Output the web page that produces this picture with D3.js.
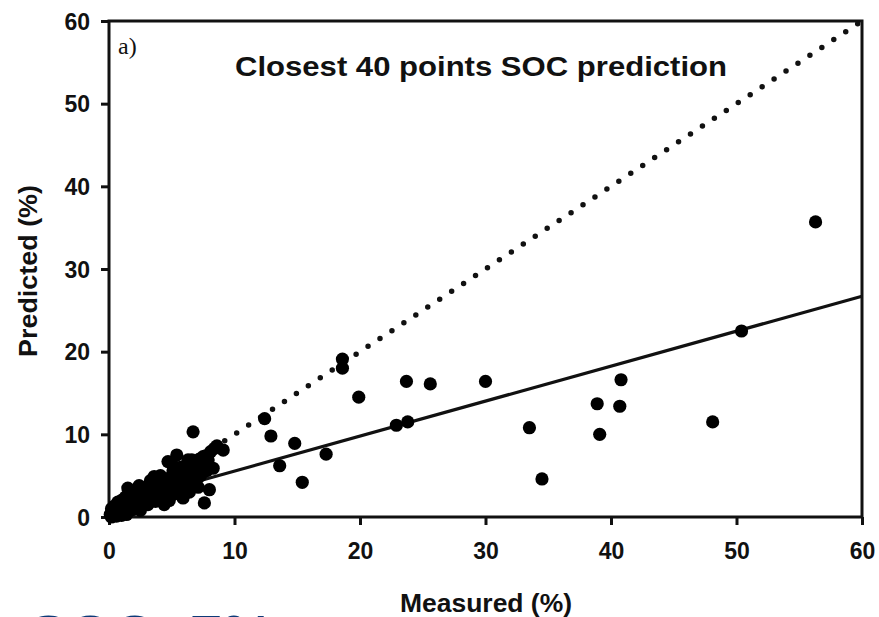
<!DOCTYPE html>
<html>
<head>
<meta charset="utf-8">
<script src="https://cdn.jsdelivr.net/npm/d3@7"></script>
<style>
  body { margin: 0; background: #fff; overflow: hidden; }
  .tick text { font-family: "Liberation Sans", Arial, sans-serif; font-weight: bold; font-size: 23px; fill: #111; }
</style>
</head>
<body>
<div id="chart"></div>
<script>
// measured vs predicted SOC (%)
const measured = [
  0.1, 0.2, 0.3, 0.4, 0.5, 0.6, 0.7, 0.8, 0.9, 1.0, 1.1, 1.2, 1.3, 1.4, 1.5, 1.6, 1.7, 1.8, 1.9, 2.0,
  2.1, 2.2, 2.3, 2.4, 2.5, 2.6, 2.7, 2.8, 2.9, 3.0, 3.1, 3.2, 3.3, 3.4, 3.5, 3.6, 3.7, 3.8, 3.9, 4.0,
  4.1, 4.2, 4.3, 4.4, 4.5, 4.6, 4.7, 4.8, 4.9, 5.0, 5.1, 5.2, 5.3, 5.4, 5.5, 5.6, 5.7, 5.8, 5.9, 6.0,
  6.1, 6.2, 6.3, 6.4, 6.5, 6.6, 6.7, 6.8, 6.9, 7.0, 7.1, 7.2, 7.3, 7.4, 7.6, 7.7, 7.8, 8.0, 8.1, 8.3,
  8.4, 9.1, 0.2, 0.6, 1.0, 1.3, 3.8, 4.4, 5.0, 5.6, 6.0, 6.4, 6.8, 7.5, 2.0, 3.0, 4.0, 5.2, 6.3, 7.0,
  7.9, 8.6,
  12.4, 12.9, 13.6, 14.8, 15.4, 17.3, 18.6, 18.6, 19.9, 22.9, 23.8, 23.7, 25.6, 30.0, 33.5, 34.5,
  38.9, 39.1, 40.7, 40.8, 48.1, 50.4, 56.3
];
const predicted = [
  0.3, 1.0, 0.5, 1.3, 0.2, 0.8, 1.8, 0.4, 1.2, 2.0, 0.7, 1.5, 2.4, 0.3, 3.5, 1.1, 2.0, 2.8, 0.9, 1.6,
  3.2, 2.3, 1.2, 3.8, 0.8, 2.6, 1.8, 3.0, 2.1, 3.6, 1.5, 2.8, 4.4, 2.2, 3.3, 4.9, 1.9, 2.9, 4.1, 3.4,
  5.0, 2.5, 3.9, 1.5, 4.5, 3.1, 6.7, 2.0, 4.8, 3.6, 5.6, 2.8, 4.2, 7.5, 5.1, 3.3, 6.0, 4.5, 2.3, 5.4,
  3.9, 6.4, 4.8, 3.0, 5.8, 6.9, 10.3, 4.2, 5.3, 6.2, 3.6, 7.0, 5.0, 6.6, 1.7, 7.4, 5.6, 3.3, 7.9, 5.9,
  8.3, 8.1, 0.0, 0.1, 0.2, 1.0, 4.3, 4.0, 4.9, 5.0, 4.2, 5.2, 6.5, 7.3, 2.7, 2.4, 2.2, 6.1, 6.9, 4.6,
  6.9, 8.6,
  11.9, 9.8, 6.2, 8.9, 4.2, 7.6, 18.0, 19.1, 14.5, 11.1, 11.5, 16.4, 16.1, 16.4, 10.8, 4.6,
  13.7, 10.0, 13.4, 16.6, 11.5, 22.5, 35.7
];

// fitted regression line and 1:1 line
const fitSlope = 0.423;
const fitIntercept = 1.33;
const axisTicks = [0, 10, 20, 30, 40, 50, 60];

const chartTitle = 'Closest 40 points SOC prediction';
const panelLabel = 'a)';
const xTitle = 'Measured (%)';
const yTitle = 'Predicted (%)';
const footText = 'SOC: 7%';

const width = 879, height = 617;
const margin = { top: 21, right: 17, bottom: 100, left: 109 };

const svg = d3.select('#chart').append('svg')
  .attr('width', width)
  .attr('height', height);

const x = d3.scaleLinear().domain([0, 60]).range([margin.left, width - margin.right]);
const y = d3.scaleLinear().domain([0, 60]).range([height - margin.bottom, margin.top]);

// axes
const xAxis = svg.append('g')
  .attr('transform', `translate(0,${y(0)})`)
  .call(d3.axisBottom(x).tickValues(axisTicks).tickSize(8).tickPadding(18));
const yAxis = svg.append('g')
  .attr('transform', `translate(${x(0)},0)`)
  .call(d3.axisLeft(y).tickValues(axisTicks).tickSize(8).tickPadding(11));

[xAxis, yAxis].forEach(a => {
  a.select('.domain').remove();
  a.selectAll('.tick line').attr('stroke', '#111').attr('stroke-width', 3);
});
yAxis.selectAll('.tick text').attr('dy', '0.36em');

// frame
svg.append('rect')
  .attr('x', x(0)).attr('y', y(60))
  .attr('width', x(60) - x(0)).attr('height', y(0) - y(60))
  .attr('fill', 'none').attr('stroke', '#111').attr('stroke-width', 3);

// 1:1 dotted line
svg.append('line')
  .attr('x1', x(0)).attr('y1', y(0)).attr('x2', x(60)).attr('y2', y(60))
  .attr('stroke', '#111').attr('stroke-width', 5.5)
  .attr('stroke-linecap', 'round')
  .attr('stroke-dasharray', '0 14.3')
  .attr('stroke-dashoffset', -9.9);

// regression line
svg.append('line')
  .attr('x1', x(0)).attr('y1', y(fitIntercept))
  .attr('x2', x(60)).attr('y2', y(fitIntercept + fitSlope * 60))
  .attr('stroke', '#111').attr('stroke-width', 3.2);

// points
svg.append('g').selectAll('circle')
  .data(measured.map((m, i) => [m, predicted[i]]))
  .join('circle')
  .attr('cx', d => x(d[0]))
  .attr('cy', d => y(d[1]))
  .attr('r', 6.6)
  .attr('fill', '#000');

// texts
svg.append('text')
  .attr('x', 481).attr('y', 76)
  .attr('text-anchor', 'middle')
  .attr('textLength', 492)
  .attr('lengthAdjust', 'spacingAndGlyphs')
  .style('font-family', '"Liberation Sans", Arial, sans-serif')
  .style('font-weight', 'bold').style('font-size', '28px')
  .attr('fill', '#111')
  .text(chartTitle);

svg.append('text')
  .attr('x', 118).attr('y', 54)
  .style('font-family', '"Liberation Serif", "Times New Roman", serif')
  .style('font-size', '24px')
  .attr('fill', '#111')
  .text(panelLabel);

svg.append('text')
  .attr('x', 486).attr('y', 612)
  .attr('text-anchor', 'middle')
  .attr('textLength', 172)
  .attr('lengthAdjust', 'spacingAndGlyphs')
  .style('font-family', '"Liberation Sans", Arial, sans-serif')
  .style('font-weight', 'bold').style('font-size', '25px')
  .attr('fill', '#111')
  .text(xTitle);

svg.append('text')
  .attr('transform', 'translate(37,271) rotate(-90)')
  .attr('text-anchor', 'middle')
  .attr('textLength', 172)
  .attr('lengthAdjust', 'spacingAndGlyphs')
  .style('font-family', '"Liberation Sans", Arial, sans-serif')
  .style('font-weight', 'bold').style('font-size', '25px')
  .attr('fill', '#111')
  .text(yTitle);

svg.append('text')
  .attr('x', 29).attr('y', 656)
  .style('font-family', '"Liberation Sans", Arial, sans-serif')
  .style('font-weight', 'bold').style('font-size', '58px')
  .attr('fill', '#0d3a78')
  .text(footText);
</script>
</body>
</html>
